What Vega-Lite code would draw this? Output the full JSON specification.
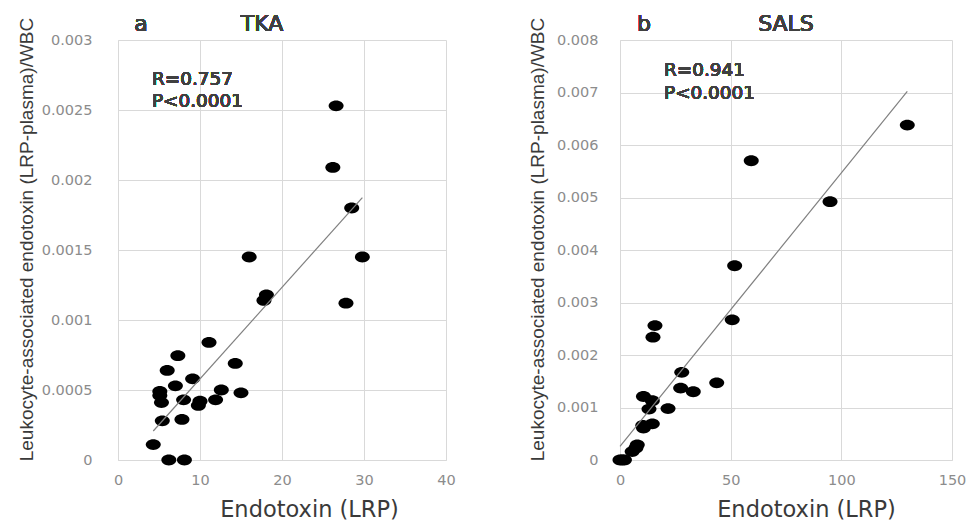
{
  "$schema": "https://vega.github.io/schema/vega-lite/v6.json",
  "padding": {"left": 16, "top": 12, "right": 5, "bottom": 5},
  "background": "white",
  "bounds": "flush",
  "spacing": 174,
  "config": {
    "font": "DejaVu Sans",
    "view": {"stroke": null},
    "axis": {
      "grid": true,
      "gridColor": "#d9d9d9",
      "gridWidth": 1,
      "domainColor": "#d9d9d9",
      "domainWidth": 1,
      "ticks": false,
      "tickSize": 0,
      "labelFlush": false,
      "labelOverlap": false,
      "labelFont": "DejaVu Sans",
      "labelFontSize": 14.5,
      "labelColor": "#8c8c8c",
      "titleFont": "DejaVu Sans",
      "titleColor": "#3a3a3a",
      "titleFontWeight": "normal"
    },
    "axisX": {"labelPadding": 13, "titleFontSize": 22.5, "titleBaseline": "middle", "titleY": 49},
    "axisY": {"labelPadding": 22, "titleFont": "Liberation Sans", "titleFontSize": 19, "titleBaseline": "middle", "titleY": 199}
  },
  "datasets": {
    "tka": [
      {"endotoxin": 26.6, "ratio": 0.00253},
      {"endotoxin": 26.2, "ratio": 0.00209},
      {"endotoxin": 28.5, "ratio": 0.00180},
      {"endotoxin": 16.0, "ratio": 0.00145},
      {"endotoxin": 29.8, "ratio": 0.00145},
      {"endotoxin": 18.1, "ratio": 0.00118},
      {"endotoxin": 17.8, "ratio": 0.00114},
      {"endotoxin": 27.8, "ratio": 0.00112},
      {"endotoxin": 11.1, "ratio": 0.00084},
      {"endotoxin": 7.3, "ratio": 0.000745},
      {"endotoxin": 14.3, "ratio": 0.00069},
      {"endotoxin": 6.0, "ratio": 0.00064},
      {"endotoxin": 9.1, "ratio": 0.00058},
      {"endotoxin": 7.0, "ratio": 0.00053},
      {"endotoxin": 5.1, "ratio": 0.00049},
      {"endotoxin": 5.1, "ratio": 0.00046},
      {"endotoxin": 5.3, "ratio": 0.00041},
      {"endotoxin": 12.6, "ratio": 0.00050},
      {"endotoxin": 15.0, "ratio": 0.00048},
      {"endotoxin": 8.0, "ratio": 0.00043},
      {"endotoxin": 10.0, "ratio": 0.00042},
      {"endotoxin": 9.8, "ratio": 0.00039},
      {"endotoxin": 11.9, "ratio": 0.00043},
      {"endotoxin": 5.4, "ratio": 0.00028},
      {"endotoxin": 7.8, "ratio": 0.00029},
      {"endotoxin": 4.3, "ratio": 0.00011},
      {"endotoxin": 6.2, "ratio": 0.0},
      {"endotoxin": 8.1, "ratio": 0.0}
    ],
    "sals": [
      {"endotoxin": 129.8, "ratio": 0.00638},
      {"endotoxin": 59.3, "ratio": 0.00570},
      {"endotoxin": 94.9, "ratio": 0.00492},
      {"endotoxin": 51.8, "ratio": 0.00370},
      {"endotoxin": 50.7, "ratio": 0.00267},
      {"endotoxin": 15.8, "ratio": 0.00256},
      {"endotoxin": 14.9, "ratio": 0.00234},
      {"endotoxin": 27.9, "ratio": 0.00167},
      {"endotoxin": 43.7, "ratio": 0.00147},
      {"endotoxin": 27.4, "ratio": 0.00137},
      {"endotoxin": 33.1, "ratio": 0.00130},
      {"endotoxin": 10.6, "ratio": 0.00121},
      {"endotoxin": 14.6, "ratio": 0.00113},
      {"endotoxin": 13.1, "ratio": 0.00097},
      {"endotoxin": 21.7, "ratio": 0.00098},
      {"endotoxin": 10.3, "ratio": 0.00066},
      {"endotoxin": 14.6, "ratio": 0.00069},
      {"endotoxin": 10.6, "ratio": 0.00061},
      {"endotoxin": 7.8, "ratio": 0.00029},
      {"endotoxin": 7.2, "ratio": 0.00023},
      {"endotoxin": 5.5, "ratio": 0.00016},
      {"endotoxin": 1.0, "ratio": 0.0},
      {"endotoxin": 0.0, "ratio": 0.0},
      {"endotoxin": 2.0, "ratio": 0.0}
    ]
  },
  "hconcat": [
    {
      "width": 328,
      "height": 420,
      "data": {"name": "tka"},
      "layer": [
        {
          "mark": {"type": "point", "filled": true, "color": "black", "opacity": 1, "size": 225, "shape": "M-1,0A1,0.72,0,1,0,1,0A1,0.72,0,1,0,-1,0Z"},
          "encoding": {
            "x": {"field": "endotoxin", "type": "quantitative", "scale": {"domain": [0, 40], "nice": false, "zero": false},
                  "axis": {"title": "Endotoxin (LRP)", "values": [0, 10, 20, 30, 40], "titleX": 191}},
            "y": {"field": "ratio", "type": "quantitative", "scale": {"domain": [0, 0.003], "nice": false, "zero": false},
                  "axis": {"title": "Leukocyte-associated endotoxin (LRP-plasma)/WBC", "values": [0, 0.0005, 0.001, 0.0015, 0.002, 0.0025, 0.003], "format": "~f", "titleX": -92, "labelPadding": 26}}
          }
        },
        {
          "transform": [{"regression": "ratio", "on": "endotoxin"}],
          "mark": {"type": "line", "color": "#808080", "strokeWidth": 1.2},
          "encoding": {
            "x": {"field": "endotoxin", "type": "quantitative"},
            "y": {"field": "ratio", "type": "quantitative"}
          }
        },
        {
          "mark": {"type": "text", "align": "left", "baseline": "middle", "fontSize": 18.4, "lineHeight": 22, "color": "#404040"},
          "encoding": {
            "x": {"datum": 4.15},
            "y": {"datum": 0.00272},
            "text": {"value": ["R=0.757", "P<0.0001"]}
          }
        },
        {
          "mark": {"type": "text", "align": "center", "baseline": "middle", "fontSize": 22, "color": "#404040"},
          "encoding": {
            "x": {"datum": 2.8},
            "y": {"datum": 0.003114},
            "text": {"value": "a"}
          }
        },
        {
          "mark": {"type": "text", "align": "center", "baseline": "middle", "fontSize": 22, "color": "#404040"},
          "encoding": {
            "x": {"datum": 17.56},
            "y": {"datum": 0.003114},
            "text": {"value": "TKA"}
          }
        }
      ]
    },
    {
      "width": 332,
      "height": 420,
      "data": {"name": "sals"},
      "layer": [
        {
          "mark": {"type": "point", "filled": true, "color": "black", "opacity": 1, "size": 225, "shape": "M-1,0A1,0.72,0,1,0,1,0A1,0.72,0,1,0,-1,0Z"},
          "encoding": {
            "x": {"field": "endotoxin", "type": "quantitative", "scale": {"domain": [0, 150], "nice": false, "zero": false},
                  "axis": {"title": "Endotoxin (LRP)", "values": [0, 50, 100, 150], "titleX": 186}},
            "y": {"field": "ratio", "type": "quantitative", "scale": {"domain": [0, 0.008], "nice": false, "zero": false},
                  "axis": {"title": "Leukocyte-associated endotoxin (LRP-plasma)/WBC", "values": [0, 0.001, 0.002, 0.003, 0.004, 0.005, 0.006, 0.007, 0.008], "format": "~f", "titleX": -83}}
          }
        },
        {
          "transform": [{"regression": "ratio", "on": "endotoxin"}],
          "mark": {"type": "line", "color": "#808080", "strokeWidth": 1.2},
          "encoding": {
            "x": {"field": "endotoxin", "type": "quantitative"},
            "y": {"field": "ratio", "type": "quantitative"}
          }
        },
        {
          "mark": {"type": "text", "align": "left", "baseline": "middle", "fontSize": 18.4, "lineHeight": 23, "color": "#404040"},
          "encoding": {
            "x": {"datum": 19.9},
            "y": {"datum": 0.007438},
            "text": {"value": ["R=0.941", "P<0.0001"]}
          }
        },
        {
          "mark": {"type": "text", "align": "center", "baseline": "middle", "fontSize": 22, "color": "#404040"},
          "encoding": {
            "x": {"datum": 10.85},
            "y": {"datum": 0.008305},
            "text": {"value": "b"}
          }
        },
        {
          "mark": {"type": "text", "align": "center", "baseline": "middle", "fontSize": 22, "color": "#404040"},
          "encoding": {
            "x": {"datum": 75.0},
            "y": {"datum": 0.008305},
            "text": {"value": "SALS"}
          }
        }
      ]
    }
  ]
}
